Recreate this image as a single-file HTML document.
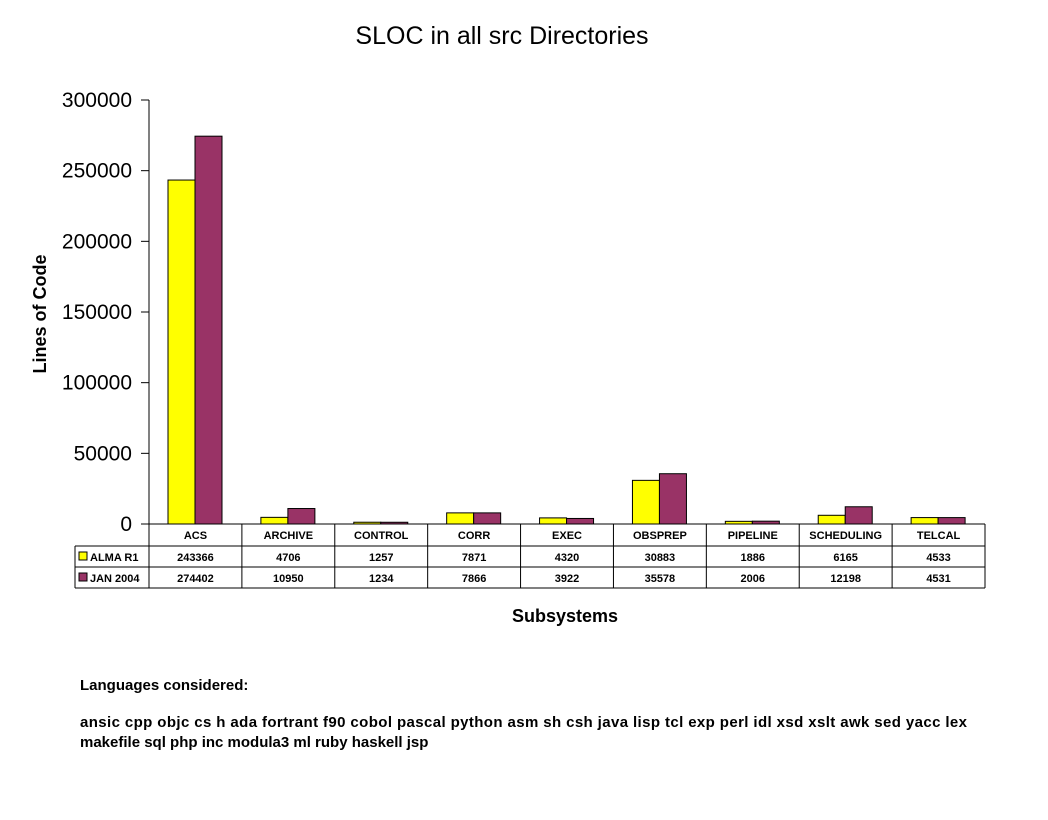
<!DOCTYPE html>
<html><head><meta charset="utf-8"><style>
body{margin:0;background:#fff;}
svg{display:block;font-family:"Liberation Sans",Arial,sans-serif;}
</style></head><body>
<svg width="1048" height="820" viewBox="0 0 1048 820">
<rect width="1048" height="820" fill="#fff"/>
<text x="502" y="44" text-anchor="middle" font-size="25">SLOC in all src Directories</text>
<g id="axis"></g>
<g id="bars"></g>
<g id="table"></g>
<text x="46" y="314" transform="rotate(-90 46 314)" text-anchor="middle" font-size="18" font-weight="bold">Lines of Code</text>
<text x="565" y="622" text-anchor="middle" font-size="18" font-weight="bold">Subsystems</text>
<text x="80" y="690" font-size="15" font-weight="bold">Languages considered:</text>
<text x="80" y="727" font-size="15" font-weight="bold" textLength="887">ansic cpp objc cs h ada fortrant f90 cobol pascal python asm sh csh java lisp tcl exp perl idl xsd xslt awk sed yacc lex</text>
<text x="80" y="747" font-size="15" font-weight="bold">makefile sql php inc modula3 ml ruby haskell jsp</text>
</svg>
<script>
const categories=["ACS","ARCHIVE","CONTROL","CORR","EXEC","OBSPREP","PIPELINE","SCHEDULING","TELCAL"];
const almaR1=[243366,4706,1257,7871,4320,30883,1886,6165,4533];
const jan2004=[274402,10950,1234,7866,3922,35578,2006,12198,4531];
const seriesNames=["ALMA R1","JAN 2004"];
const yTicks=[0,50000,100000,150000,200000,250000,300000];
const NS="http://www.w3.org/2000/svg";
const x0=149,x1=985,yTop=100,yBot=524,yMax=300000;
const cw=(x1-x0)/categories.length;
const y=v=>yBot-(v/yMax)*(yBot-yTop);
const xc=i=>x0+i*cw;
function mk(tag,attrs,parent,txt){const e=document.createElementNS(NS,tag);for(const k in attrs)e.setAttribute(k,attrs[k]);if(txt!==undefined)e.textContent=txt;parent.appendChild(e);return e;}
const ax=document.getElementById('axis');
let l=mk('line',{x1:x0,y1:yTop,x2:x0,y2:yBot,stroke:'#000'},ax);


yTicks.forEach(t=>{
  let tk=mk('line',{x1:x0-8,y1:y(t),x2:x0,y2:y(t),stroke:'#000'},ax);
  
  
  let tl=mk('text',{x:x0-17,y:y(t)+7,'text-anchor':'end','font-size':21},ax,String(t));
  
  
});
const bg=document.getElementById('bars');
const colors=["#ffff00","#993366"];
[almaR1,jan2004].forEach((s,si)=>{
  s.forEach((v,i)=>{
    const bx=xc(i)+19+si*27;
    let r=mk('rect',{x:bx,y:y(v),width:27,height:yBot-y(v),fill:colors[si],stroke:'#000','stroke-width':1},bg);
    
    
  });
});
const tb=document.getElementById('table');
const rows=[524,546,567,588];
const legX=75;
mk('line',{x1:x0,y1:rows[0],x2:x1,y2:rows[0],stroke:'#000'},tb);
for(let r=1;r<4;r++)mk('line',{x1:legX,y1:rows[r],x2:x1,y2:rows[r],stroke:'#000'},tb);
mk('line',{x1:legX,y1:rows[1],x2:legX,y2:rows[3],stroke:'#000'},tb);
for(let i=0;i<=categories.length;i++)mk('line',{x1:xc(i),y1:rows[0],x2:xc(i),y2:rows[3],stroke:'#000'},tb);
categories.forEach((c,i)=>{
  let t=mk('text',{x:xc(i)+cw/2,y:rows[0]+15,'text-anchor':'middle','font-size':11,'font-weight':'bold'},tb,c);
  
  
});
[almaR1,jan2004].forEach((s,si)=>{
  const ry=rows[si+1];
  let sw=mk('rect',{x:legX+4,y:ry+6,width:8,height:8,fill:colors[si],stroke:'#000'},tb);
  
  
  let ln=mk('text',{x:legX+15,y:ry+15,'font-size':11,'font-weight':'bold'},tb,seriesNames[si]);
  
  
  s.forEach((v,i)=>{
    let t=mk('text',{x:xc(i)+cw/2,y:ry+15,'text-anchor':'middle','font-size':11,'font-weight':'bold'},tb,String(v));
    
    
  });
});
</script>
</body></html>
